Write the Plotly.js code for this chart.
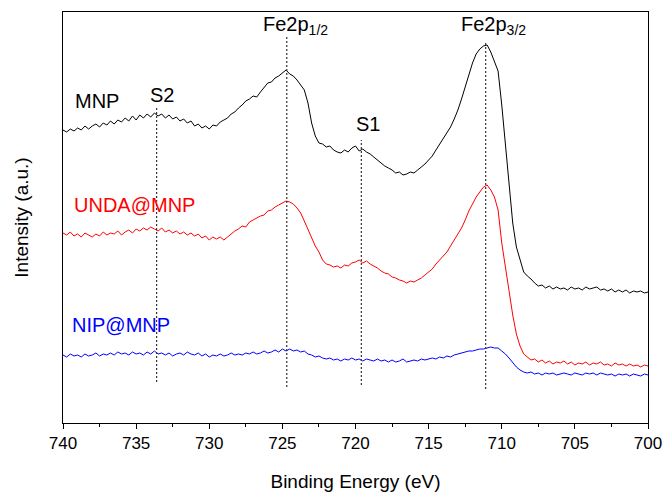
<!DOCTYPE html>
<html>
<head>
<meta charset="utf-8">
<script src="https://cdn.plot.ly/plotly-3.0.1.min.js"></script>
<style>html,body{margin:0;padding:0;background:#fff;}#chart{width:665px;height:494px;}</style>
</head>
<body>
<div id="chart"></div>
<script>
// Binding energy grid (eV)
const energy = [
740,739.75,739.5,739.25, 739,738.75,738.5,738.25, 738,737.75,737.5,737.25, 737,736.75,736.5,736.25,
736,735.75,735.5,735.25, 735,734.75,734.5,734.25, 734,733.75,733.5,733.25, 733,732.75,732.5,732.25,
732,731.75,731.5,731.25, 731,730.75,730.5,730.25, 730,729.75,729.5,729.25, 729,728.75,728.5,728.25,
728,727.75,727.5,727.25, 727,726.75,726.5,726.25, 726,725.75,725.5,725.25, 725,724.75,724.5,724.25,
724,723.75,723.5,723.25, 723,722.75,722.5,722.25, 722,721.75,721.5,721.25, 721,720.75,720.5,720.25,
720,719.75,719.5,719.25, 719,718.75,718.5,718.25, 718,717.75,717.5,717.25, 717,716.75,716.5,716.25,
716,715.75,715.5,715.25, 715,714.75,714.5,714.25, 714,713.75,713.5,713.25, 713,712.75,712.5,712.25,
712,711.75,711.5,711.25, 711,710.75,710.5,710.25, 710,709.75,709.5,709.25, 709,708.75,708.5,708.25,
708,707.75,707.5,707.25, 707,706.75,706.5,706.25, 706,705.75,705.5,705.25, 705,704.75,704.5,704.25,
704,703.75,703.5,703.25, 703,702.75,702.5,702.25, 702,701.75,701.5,701.25, 701,700.75,700.5,700.25,
700];

// Intensities (a.u., offset stacked as in the figure)
const mnp = [
293,291,294,292, 295,293,297,294, 297,299,296,300, 298,302,299,303,
301,305,302,307, 303,308,305,309, 306,310,307,309, 305,308,304,306,
302,304,300,302, 297,299,295,297, 294,298,297,301, 303,305,309,311,
315,318,322,324, 327,326,331,335, 340,341,345,347, 350,353,349,347,
343,338,333,320, 300,287,280,279, 276,277,273,271, 270,273,271,275,
277,272,274,271, 269,266,263,260, 257,255,253,250, 251,248,249,251,
250,253,256,259, 263,267,273,279, 285,290,296,304, 313,324,336,348,
360,369,374,377, 378,371,362,352, 318,276,242,200, 176,163,151,147,
144,140,137,138, 135,137,134,136, 134,135,133,136, 134,135,133,136,
134,135,136,133, 134,132,134,131, 133,131,133,130, 132,131,132,130,
131];

const unda = [
190,188,191,187, 189,186,190,188, 186,189,187,191, 188,190,189,192,
188,191,193,190, 194,192,195,193, 196,194,192,195, 191,193,190,192,
189,191,188,190, 187,189,185,187, 183,186,184,186, 183,186,189,192,
194,197,196,201, 203,205,207,208, 212,213,216,218, 220,222,221,219,
215,210,202,193, 184,177,171,163, 159,158,156,157, 155,158,157,160,
161,163,160,162, 159,157,155,152, 150,149,146,145, 143,142,140,142,
141,143,145,148, 151,154,159,163, 167,171,177,183, 189,195,203,212,
219,226,231,236, 238,233,226,213, 180,156,136,108, 89,77,69,66,
63,64,61,63, 60,62,59,61, 60,62,59,61, 58,60,59,61,
58,60,59,61, 58,59,57,60, 58,59,57,59, 57,58,56,58,
57];

const nip = [
68,66,69,67, 68,66,69,67, 68,70,67,69, 68,70,68,71,
69,70,68,71, 69,70,68,71, 69,72,69,70, 68,70,67,69,
70,68,71,69, 68,70,67,69, 66,68,67,69, 67,68,70,68,
69,68,70,69, 71,69,70,72, 70,71,73,71, 74,72,74,72,
73,71,72,69, 68,66,67,65, 64,65,63,64, 62,64,63,65,
63,64,62,64, 63,62,64,62, 63,61,63,61, 62,64,61,62,
63,62,64,63, 64,65,64,66, 65,67,66,68, 69,70,71,72,
72,73,74,74, 75,76,75,75, 72,69,65,60, 56,53,51,50,
51,49,50,48, 50,49,50,48, 49,50,49,48, 50,49,48,50,
49,50,48,50, 49,48,49,47, 49,48,49,47, 49,48,47,49,
48];

// Peak markers
const peakEnergy = [733.6, 724.7, 719.6, 711.1];
const peakTop    = [317, 388, 283, 380];
const peakBottom = [41, 36, 38, 34];

// Tick labels
const xTickVals = [740, 735, 730, 725, 720, 715, 710, 705, 700];
const xTickText = ['740','735','730','725','720','715','710','705','700'];
const xMinorVals = [737.5, 732.5, 727.5, 722.5, 717.5, 712.5, 707.5, 702.5];

const FONT = 'Liberation Sans, Arial, sans-serif';

const traces = [
  {x: energy, y: mnp,  mode: 'lines', line: {color: '#000000', width: 1}, hoverinfo: 'skip'},
  {x: energy, y: unda, mode: 'lines', line: {color: '#ff0000', width: 1}, hoverinfo: 'skip'},
  {x: energy, y: nip,  mode: 'lines', line: {color: '#0000ff', width: 1}, hoverinfo: 'skip'}
];
peakEnergy.forEach((e, i) => {
  traces.push({x: [e, e], y: [peakBottom[i], peakTop[i]], mode: 'lines',
    line: {color: '#333333', width: 1.2, dash: '2px,2px'}, hoverinfo: 'skip'});
});

const ann = (text, x, y, color, xanchor) => ({
  text, x, y, xref: 'x', yref: 'y', showarrow: false,
  xanchor: xanchor || 'center', yanchor: 'middle',
  font: {family: FONT, size: 20, color}
});

const layout = {
  width: 665, height: 494,
  margin: {l: 63, r: 17, t: 12, b: 71},
  paper_bgcolor: '#ffffff', plot_bgcolor: '#ffffff',
  showlegend: false,
  font: {family: FONT, color: '#000'},
  xaxis: {
    range: [740, 700], tickmode: 'array', tickvals: xTickVals, ticktext: xTickText,
    ticks: 'outside', ticklen: 5, tickwidth: 1, tickcolor: '#000',
    minor: {tickmode: 'array', tickvals: xMinorVals, ticks: 'outside', ticklen: 3, tickwidth: 1, tickcolor: '#000'},
    showline: true, linecolor: '#000', linewidth: 1, mirror: true,
    showgrid: false, zeroline: false,
    tickfont: {family: FONT, size: 17, color: '#000'},
    title: {text: 'Binding Energy (eV)', font: {family: FONT, size: 19, color: '#000'}, standoff: 22}
  },
  yaxis: {
    range: [0, 411], showticklabels: false, ticks: '',
    showline: true, linecolor: '#000', linewidth: 1, mirror: true,
    showgrid: false, zeroline: false,
    title: {text: 'Intensity (a.u.)', font: {family: FONT, size: 19, color: '#000'}, standoff: 28}
  },
  annotations: [
    ann('MNP', 739.32, 322, '#000', 'left'),
    ann('S2', 733.23, 328, '#000'),
    ann('Fe2p<sub>1/2</sub>', 726.45, 398, '#000', 'left'),
    ann('S1', 719.15, 299, '#000'),
    ann('Fe2p<sub>3/2</sub>', 712.9, 398, '#000', 'left'),
    ann('UNDA@MNP', 739.38, 218, '#ff0000', 'left'),
    ann('NIP@MNP', 739.52, 98, '#0000ff', 'left')
  ]
};

Plotly.newPlot('chart', traces, layout, {staticPlot: true, displayModeBar: false});
</script>
</body>
</html>
